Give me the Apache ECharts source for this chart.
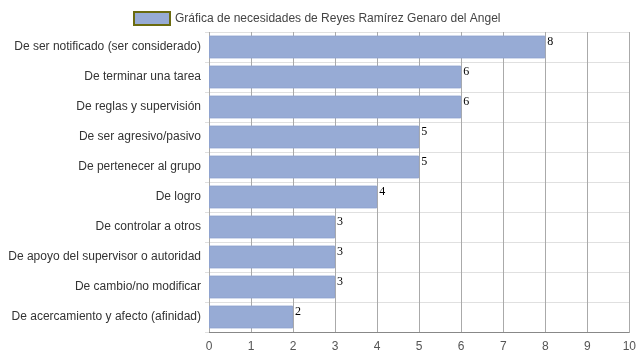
<!DOCTYPE html>
<html><head><meta charset="utf-8">
<script src="https://cdn.jsdelivr.net/npm/echarts@6/dist/echarts.min.js"></script>
<style>html,body{margin:0;padding:0;background:#fff}#c{width:639px;height:360px}</style>
</head><body><div id="c"></div>
<script>
const categories = [
  "De ser notificado (ser considerado)",
  "De terminar una tarea",
  "De reglas y supervisión",
  "De ser agresivo/pasivo",
  "De pertenecer al grupo",
  "De logro",
  "De controlar a otros",
  "De apoyo del supervisor o autoridad",
  "De cambio/no modificar",
  "De acercamiento y afecto (afinidad)"
];
const values = [8, 6, 6, 5, 5, 4, 3, 3, 3, 2];
const seriesName = "Gráfica de necesidades de Reyes Ramírez Genaro del Angel";
const xTicks = [0, 10, 1];

const chart = echarts.init(document.getElementById('c'));
chart.setOption({
  animation: false,
  legend: {
    top: 6, left: 128,
    itemWidth: 36, itemHeight: 13, itemGap: 10,
    textStyle: {fontFamily: 'Liberation Sans, Arial', fontSize: 12, color: '#444'},
    data: [{name: seriesName, icon: 'rect', itemStyle: {color: '#97abd5', borderColor: '#6b6b10', borderWidth: 2}}]
  },
  grid: {left: 209, right: 9, top: 32, bottom: 28, containLabel: false},
  xAxis: {
    type: 'value', min: xTicks[0], max: xTicks[1], interval: xTicks[2],
    axisLine: {show: true, lineStyle: {color: '#888'}},
    axisTick: {show: false},
    axisLabel: {fontFamily: 'Liberation Sans, Arial', fontSize: 12, color: '#555', margin: 9},
    splitLine: {show: true, lineStyle: {color: '#aaa'}}
  },
  yAxis: {
    type: 'category', data: categories, inverse: true,
    axisLine: {show: false},
    axisTick: {show: true, length: 4, lineStyle: {color: '#e0e0e0'}},
    axisLabel: {fontFamily: 'Liberation Sans, Arial', fontSize: 12, color: '#333', margin: 8},
    splitLine: {show: true, lineStyle: {color: '#e0e0e0'}}
  },
  series: [{
    name: seriesName, type: 'bar', data: values,
    barWidth: '76%',
    itemStyle: {color: '#97abd5', borderColor: '#8fa3cf', borderWidth: 1},
    label: {show: true, position: 'right', distance: 2, offset: [0, -5],
      fontFamily: 'Liberation Serif, Times New Roman', fontSize: 12, color: '#000'}
  }]
});
</script></body></html>
